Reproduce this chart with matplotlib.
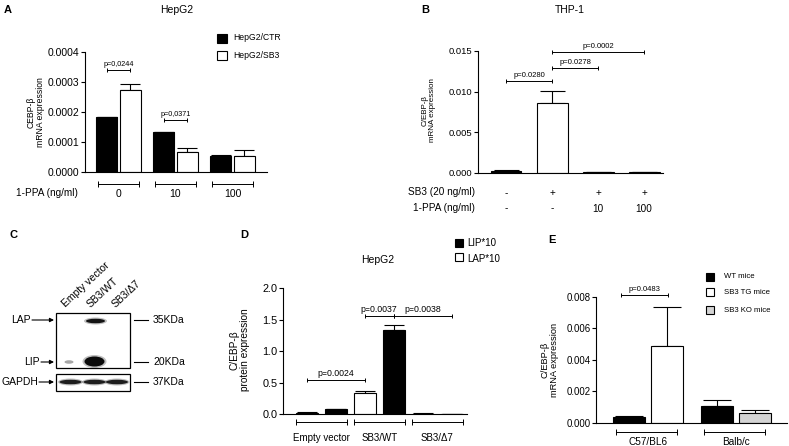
import numpy as np
import matplotlib
matplotlib.use('Agg')
import matplotlib.pyplot as plt
from matplotlib.patches import Rectangle, Ellipse
from matplotlib.transforms import blended_transform_factory

plt.rcParams['font.family'] = ['Liberation Sans', 'DejaVu Sans']

# ---- data ----
# A: HepG2, 1-PPA dose
a_groups = ['0', '10', '100']
a_ctr = [0.000183, 0.000133, 0.0000547]
a_ctr_err = [0.000002, 0.000001, 0.000002]
a_sb3 = [0.000272, 0.0000657, 0.0000523]
a_sb3_err = [0.00002, 0.000015, 0.000022]
a_pvals = ['p=0,0244', 'p=0,0371']
a_p_y = [0.00034, 0.000172]

# B: THP-1
b_sb3 = ['-', '+', '+', '+']
b_ppa = ['-', '-', '10', '100']
b_vals = [0.00018, 0.0086, 0.00005, 0.00003]
b_err = [0.00012, 0.0015, 0.00001, 0.00001]
b_colors = ['black', 'white', 'white', 'white']
b_pairs = [(0, 1), (1, 2), (1, 3)]
b_pvals = ['p=0.0280', 'p=0.0278', 'p=0.0002']
b_p_y = [0.0113, 0.01287, 0.0149]

# C: western blot lanes
c_lanes = ['Empty vector', 'SB3/WT', 'SB3/\u03947']
c_lap = [0.0, 1.0, 0.0]
c_lip = [0.35, 1.0, 0.0]
c_gapdh = [1.0, 1.0, 1.0]

# D: HepG2 protein
d_groups = ['Empty vector', 'SB3/WT', 'SB3/\u03947']
d_lap = [0.025, 0.34, 0.01]
d_lap_err = [0.005, 0.035, 0.003]
d_lip = [0.08, 1.33, 0.005]
d_lip_err = [0.004, 0.08, 0.002]
d_pairs = [(0, 2), (2, 3), (3, 5)]
d_pvals = ['p=0.0024', 'p=0.0037', 'p=0.0038']
d_p_y = [0.543, 1.555, 1.555]

# E: mice
e_groups = ['C57/BL6', 'Balb/c']
e_wt = [0.00035, 0.00107]
e_wt_err = [0.0001, 0.0004]
e_tg = [0.00487]
e_tg_err = [0.0025]
e_ko = [0.0006]
e_ko_err = [0.0002]

W, H = 789, 446
fig = plt.figure(figsize=(W / 100, H / 100), dpi=100)


def px_axes(x0, y0, x1, y1):
    return fig.add_axes([x0 / W, 1 - y1 / H, (x1 - x0) / W, (y1 - y0) / H])


def ftext(x, y, s, **kw):
    kw.setdefault('ha', 'center')
    kw.setdefault('va', 'center')
    fig.text(x / W, 1 - y / H, s, **kw)


def prism(ax, tick_fs):
    for s in ['top', 'right']:
        ax.spines[s].set_visible(False)
    ax.spines['left'].set_linewidth(0.8)
    ax.spines['bottom'].set_linewidth(0.8)
    ax.tick_params(axis='y', length=3, width=0.8, labelsize=tick_fs, pad=1)
    ax.tick_params(axis='x', length=0, labelbottom=False)
    ax.patch.set_alpha(0)


def bars(ax, x, v, err, color, width, cap=6):
    ax.bar(x, v, width, color=color, edgecolor='black', linewidth=0.8, zorder=2)
    e = np.array(err)
    ax.errorbar(x, v, yerr=[np.zeros_like(e), e], fmt='none', ecolor='black',
                elinewidth=0.8, capsize=cap, capthick=0.8, zorder=1)


def sig(ax, x0, x1, y, s, fs):
    ax.plot([x0, x1], [y, y], color='black', lw=0.7, marker='|', ms=3,
            mew=0.7, clip_on=False)
    ax.annotate(s, ((x0 + x1) / 2, y), xytext=(0, 1.5), textcoords='offset points',
                ha='center', va='bottom', fontsize=fs, annotation_clip=False)


def under(ax, x0, x1, yfrac):
    tr = blended_transform_factory(ax.transData, ax.transAxes)
    ax.plot([x0, x1], [yfrac, yfrac], color='black', lw=0.7, marker='|', ms=4,
            mew=0.7, transform=tr, clip_on=False)


def ylabel(x, y, s, fs):
    ftext(x, y, s, rotation=90, fontsize=fs, multialignment='center', linespacing=1.1)


# ---- overlay for letters, legends, blot ----
ov = fig.add_axes([0, 0, 1, 1])
ov.set_xlim(0, W)
ov.set_ylim(H, 0)
ov.axis('off')

# ---- Panel A ----
ax = px_axes(85, 52, 267, 172)
prism(ax, 7.5)
xa = np.arange(len(a_groups))
off, wa = 0.207, 0.37
bars(ax, xa - off, a_ctr, a_ctr_err, 'black', wa, cap=7)
bars(ax, xa + off, a_sb3, a_sb3_err, 'white', wa, cap=7)
ax.set_xlim(-0.588, 2.605)
ax.set_ylim(0, 0.0004)
ax.set_yticks([0, 0.0001, 0.0002, 0.0003, 0.0004])
ax.set_yticklabels(['%.4f' % t for t in ax.get_yticks()])
for i, (s, y) in enumerate(zip(a_pvals, a_p_y)):
    sig(ax, i - off, i + off, y, s, 5.2)
tr = blended_transform_factory(ax.transData, ax.transAxes)
for i, g in enumerate(a_groups):
    under(ax, i - 0.36, i + 0.36, -0.1)
    ax.text(i, -0.18, g, transform=tr, ha='center', va='center', fontsize=7.5)
ftext(78, 193, '1-PPA (ng/ml)', ha='right', fontsize=7.2)
ylabel(36, 112, 'CEBP-\u03b2\nmRNA expression', 6.2)
ftext(8, 10, 'A', fontsize=8, fontweight='bold')
ftext(177, 10, 'HepG2', fontsize=7.5)
ov.add_patch(Rectangle((217, 33.5), 10, 9, facecolor='black', edgecolor='black', lw=0.8))
ov.add_patch(Rectangle((217, 51), 10, 9, facecolor='white', edgecolor='black', lw=0.8))
ftext(233, 38, 'HepG2/CTR', ha='left', fontsize=6.2)
ftext(233, 56, 'HepG2/SB3', ha='left', fontsize=6.2)

# ---- Panel B ----
ax = px_axes(478, 51, 663, 172.7)
prism(ax, 6.8)
xb = np.arange(len(b_vals))
bars(ax, xb, b_vals, b_err, b_colors, 0.67, cap=9)
ax.set_xlim(-0.61, 3.41)
ax.set_ylim(0, 0.015)
ax.set_yticks([0, 0.005, 0.010, 0.015])
ax.set_yticklabels(['%.3f' % t for t in ax.get_yticks()])
for (i, j), s, y in zip(b_pairs, b_pvals, b_p_y):
    sig(ax, i, j, y, s, 5.5)
tr = blended_transform_factory(ax.transData, ax.transAxes)
for i in range(len(b_vals)):
    ax.text(i, -0.165, b_sb3[i], transform=tr, ha='center', va='center', fontsize=7.2)
    ax.text(i, -0.295, b_ppa[i], transform=tr, ha='center', va='center', fontsize=7.2)
ftext(475, 192, 'SB3 (20 ng/ml)', ha='right', fontsize=7.2)
ftext(475, 208, '1-PPA (ng/ml)', ha='right', fontsize=7.2)
ylabel(429, 110, 'C/EBP-\u03b2\nmRNA expression', 5.8)
ftext(425, 10, 'B', fontsize=8, fontweight='bold')
ftext(570, 10, 'THP-1', fontsize=7.5)

# ---- Panel C (blot drawing) ----
ftext(14, 235, 'C', fontsize=8, fontweight='bold')
ov.add_patch(Rectangle((56, 313), 74, 55, facecolor='white', edgecolor='black', lw=0.9))
ov.add_patch(Rectangle((56, 374), 74, 17, facecolor='white', edgecolor='black', lw=0.9))
lane_x = [70.5, 94.5, 117]
for lx, lap, lip, gap in zip(lane_x, c_lap, c_lip, c_gapdh):
    if lap > 0:
        ov.add_patch(Ellipse((lx + 1, 321), 23, 7, color='black', alpha=0.25 * lap, lw=0))
        ov.add_patch(Ellipse((lx + 1, 321), 19, 4.5, color='black', alpha=0.9 * lap, lw=0))
    if lip >= 1:
        ov.add_patch(Ellipse((lx, 361.5), 24, 13, color='black', alpha=0.25, lw=0))
        ov.add_patch(Ellipse((lx, 361.5), 20, 10, color='black', alpha=0.95, lw=0))
    elif lip > 0:
        ov.add_patch(Ellipse((lx - 1.5, 362), 9, 3.5, color='black', alpha=lip, lw=0))
    ov.add_patch(Ellipse((lx, 382), 25, 7, color='black', alpha=0.25 * gap, lw=0))
    ov.add_patch(Ellipse((lx, 382), 22, 4.5, color='black', alpha=0.85 * gap, lw=0))
for lx, s in zip([67, 92, 117], c_lanes):
    ov.text(lx, 309, s, rotation=43, rotation_mode='anchor', ha='left', va='bottom',
            fontsize=7.5)
for y, name, ax0 in [(320, 'LAP', 32), (362, 'LIP', 41), (382, 'GAPDH', 39)]:
    ov.annotate('', xy=(54, y), xytext=(ax0, y),
                arrowprops=dict(arrowstyle='-|>', color='black', lw=0.8,
                                mutation_scale=6, shrinkA=0, shrinkB=0))
    ov.text(ax0 - 1, y, name, ha='right', va='center', fontsize=7.5)
for y, kd in [(320, '35KDa'), (362, '20KDa'), (382, '37KDa')]:
    ov.plot([134, 148], [y, y], color='black', lw=0.8)
    ov.text(153, y, kd, ha='left', va='center', fontsize=7.5)

# ---- Panel D ----
ax = px_axes(283, 288, 467, 414.3)
prism(ax, 7.8)
gd = np.arange(len(d_groups))
bars(ax, 2 * gd, d_lap, d_lap_err, 'white', 0.76, cap=7)
bars(ax, 2 * gd + 1, d_lip, d_lip_err, 'black', 0.76, cap=7)
ax.set_xlim(-0.817, 5.528)
ax.set_ylim(0, 2.0)
ax.set_yticks([0, 0.5, 1.0, 1.5, 2.0])
ax.set_yticklabels(['%.1f' % t for t in ax.get_yticks()])
for (i, j), s, y in zip(d_pairs, d_pvals, d_p_y):
    sig(ax, i, j, y, s, 6.3)
tr = blended_transform_factory(ax.transData, ax.transAxes)
for g, name in enumerate(d_groups):
    under(ax, 2 * g - 0.38, 2 * g + 1.38, -0.06)
    ax.text(2 * g + 0.5, -0.19, name, transform=tr, ha='center', va='center', fontsize=7)
ylabel(240, 350, 'C/EBP-\u03b2\nprotein expression', 7.3)
ftext(244, 235, 'D', fontsize=8, fontweight='bold')
ftext(378, 260, 'HepG2', fontsize=7.5)
ov.add_patch(Rectangle((455, 239), 8, 8, facecolor='black', edgecolor='black', lw=0.8))
ov.add_patch(Rectangle((455, 253), 8, 8, facecolor='white', edgecolor='black', lw=0.8))
ftext(467, 243, 'LIP*10', ha='left', fontsize=7)
ftext(467, 259, 'LAP*10', ha='left', fontsize=7)

# ---- Panel E ----
ax = px_axes(596, 297, 787, 422.7)
prism(ax, 6.9)
ge = np.arange(len(e_groups))
oe, we = 0.213, 0.364
bars(ax, ge - oe, e_wt, e_wt_err, 'black', we, cap=10)
bars(ax, [0 + oe], e_tg, e_tg_err, 'white', we, cap=10)
bars(ax, [1 + oe], e_ko, e_ko_err, '#d4d4d4', we, cap=10)
ax.set_xlim(-0.59, 1.58)
ax.set_ylim(0, 0.008)
ax.set_yticks([0, 0.002, 0.004, 0.006, 0.008])
ax.set_yticklabels(['%.3f' % t for t in ax.get_yticks()])
sig(ax, -oe - 0.09, oe + 0.02, 0.0081, 'p=0.0483', 5.5)
tr = blended_transform_factory(ax.transData, ax.transAxes)
for g, name in enumerate(e_groups):
    under(ax, g - 0.36, g + 0.33, -0.072)
    ax.text(g, -0.15, name, transform=tr, ha='center', va='center', fontsize=7.2)
ylabel(550, 360, 'C/EBP-\u03b2\nmRNA expression', 6.7)
ftext(552, 240, 'E', fontsize=8, fontweight='bold')
for y, s, c in zip([276.7, 292, 310], ['WT mice', 'SB3 TG mice', 'SB3 KO mice'],
                   ['black', 'white', '#d4d4d4']):
    ov.add_patch(Rectangle((706.5, y - 4), 8, 8, facecolor=c, edgecolor='black', lw=0.8))
    ov.text(724, y, s, ha='left', va='center', fontsize=5.6)

fig.savefig('out.png', dpi=100)
